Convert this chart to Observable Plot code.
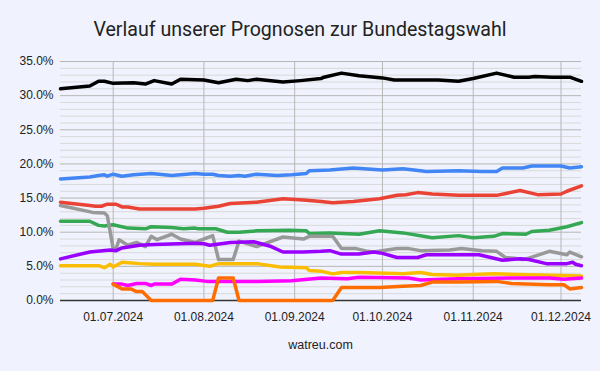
<!DOCTYPE html>
<html><head><meta charset="utf-8">
<script src="https://cdn.jsdelivr.net/npm/d3@7"></script>
<script src="https://cdn.jsdelivr.net/npm/@observablehq/plot@0.6"></script>
<style>
body{margin:0;background:#f0f3fd;width:600px;height:371px;overflow:hidden}
#title{height:29px;padding-top:19px;line-height:22px;text-align:center;font-family:Roboto,"Liberation Sans",Arial,sans-serif;font-size:19.6px;color:#222}
#caption{height:30px;line-height:30px;padding-left:41px;text-align:center;font-family:"Liberation Sans",Arial,sans-serif;font-size:12.5px;color:#222}
#chart svg{display:block}
</style></head><body>
<div id="title">Verlauf unserer Prognosen zur Bundestagswahl</div>
<div id="chart"></div>
<div id="caption">watreu.com</div>
<script>
const cdu = [["2024-06-13",31.0],["2024-06-23",31.4],["2024-06-26",32.1],["2024-06-28",32.1],["2024-07-01",31.8],["2024-07-08",31.9],["2024-07-12",31.7],["2024-07-15",32.2],["2024-07-21",31.7],["2024-07-24",32.4],["2024-08-01",32.3],["2024-08-06",31.9],["2024-08-12",32.4],["2024-08-16",32.2],["2024-08-19",32.4],["2024-08-28",32.0],["2024-09-03",32.2],["2024-09-10",32.5],["2024-09-11",32.7],["2024-09-17",33.3],["2024-09-23",32.9],["2024-10-01",32.6],["2024-10-05",32.3],["2024-10-20",32.3],["2024-10-27",32.1],["2024-11-01",32.5],["2024-11-09",33.3],["2024-11-15",32.7],["2024-11-20",32.7],["2024-11-22",32.8],["2024-11-28",32.7],["2024-12-04",32.7],["2024-12-08",32.1]];
const afd = [["2024-06-13",17.8],["2024-06-23",18.1],["2024-06-26",18.3],["2024-06-28",18.4],["2024-06-29",18.2],["2024-07-01",18.5],["2024-07-04",18.2],["2024-07-08",18.4],["2024-07-14",18.6],["2024-07-21",18.3],["2024-07-29",18.6],["2024-08-01",18.5],["2024-08-04",18.5],["2024-08-06",18.3],["2024-08-10",18.2],["2024-08-13",18.3],["2024-08-15",18.2],["2024-08-19",18.5],["2024-08-26",18.3],["2024-08-31",18.4],["2024-09-05",18.6],["2024-09-06",19.0],["2024-09-13",19.1],["2024-09-21",19.4],["2024-10-01",19.1],["2024-10-08",19.3],["2024-10-14",19.0],["2024-10-16",18.9],["2024-10-27",19.0],["2024-11-04",18.9],["2024-11-09",18.9],["2024-11-11",19.4],["2024-11-18",19.4],["2024-11-21",19.7],["2024-12-01",19.7],["2024-12-04",19.4],["2024-12-08",19.6]];
const spd = [["2024-06-13",14.4],["2024-06-23",13.9],["2024-06-25",13.8],["2024-06-27",13.8],["2024-06-29",14.1],["2024-07-02",14.1],["2024-07-04",13.7],["2024-07-06",13.7],["2024-07-10",13.4],["2024-07-29",13.4],["2024-08-01",13.5],["2024-08-06",13.8],["2024-08-10",14.2],["2024-08-19",14.4],["2024-08-28",14.9],["2024-09-04",14.7],["2024-09-10",14.5],["2024-09-14",14.3],["2024-09-21",14.5],["2024-09-30",14.9],["2024-10-06",15.4],["2024-10-09",15.5],["2024-10-13",15.8],["2024-10-18",15.6],["2024-10-27",15.4],["2024-11-09",15.4],["2024-11-17",16.1],["2024-11-23",15.5],["2024-12-01",15.6],["2024-12-03",16.0],["2024-12-08",16.8]];
const gruene = [["2024-06-13",11.6],["2024-06-23",11.6],["2024-06-26",11.0],["2024-06-28",10.9],["2024-07-01",11.1],["2024-07-06",10.6],["2024-07-12",10.5],["2024-07-14",10.8],["2024-07-21",10.7],["2024-07-25",10.5],["2024-07-29",10.6],["2024-07-30",10.5],["2024-08-05",10.5],["2024-08-09",10.0],["2024-08-13",10.0],["2024-08-19",10.2],["2024-08-30",10.3],["2024-09-05",10.2],["2024-09-06",9.8],["2024-09-13",9.9],["2024-09-23",9.7],["2024-09-30",10.2],["2024-10-08",9.9],["2024-10-18",9.2],["2024-10-27",9.5],["2024-11-01",9.2],["2024-11-08",9.4],["2024-11-11",9.8],["2024-11-19",9.7],["2024-11-21",10.1],["2024-11-27",10.3],["2024-12-03",10.8],["2024-12-08",11.4]];
const sonstige = [["2024-06-13",13.9],["2024-06-24",12.9],["2024-06-28",12.8],["2024-06-29",12.4],["2024-07-01",7.6],["2024-07-02",7.6],["2024-07-03",8.9],["2024-07-06",8.1],["2024-07-09",8.5],["2024-07-12",7.9],["2024-07-14",9.4],["2024-07-16",8.9],["2024-07-21",9.7],["2024-07-24",9.0],["2024-07-29",8.5],["2024-08-04",9.5],["2024-08-06",6.0],["2024-08-11",6.0],["2024-08-13",8.7],["2024-08-19",7.9],["2024-08-28",9.3],["2024-09-04",9.0],["2024-09-06",9.4],["2024-09-14",9.4],["2024-09-17",7.6],["2024-09-22",7.6],["2024-09-26",7.2],["2024-09-28",7.1],["2024-10-06",7.6],["2024-10-10",7.6],["2024-10-14",7.3],["2024-10-24",7.4],["2024-10-28",7.6],["2024-11-04",7.3],["2024-11-09",7.2],["2024-11-12",6.3],["2024-11-15",6.2],["2024-11-18",6.0],["2024-11-20",6.2],["2024-11-27",7.2],["2024-12-03",6.7],["2024-12-04",7.1],["2024-12-08",6.4]];
const bsw = [["2024-06-13",6.1],["2024-06-23",7.1],["2024-06-30",7.4],["2024-07-02",7.3],["2024-07-04",7.7],["2024-07-10",8.1],["2024-07-15",8.2],["2024-07-29",8.4],["2024-08-01",8.3],["2024-08-03",8.1],["2024-08-10",8.5],["2024-08-18",8.6],["2024-08-24",7.9],["2024-08-28",7.1],["2024-09-04",7.1],["2024-09-10",7.2],["2024-09-13",7.3],["2024-09-17",6.8],["2024-09-23",6.8],["2024-09-28",7.1],["2024-10-01",6.9],["2024-10-06",6.3],["2024-10-13",6.3],["2024-10-16",6.7],["2024-11-03",6.7],["2024-11-11",5.9],["2024-11-17",6.1],["2024-11-20",6.0],["2024-11-26",5.4],["2024-12-03",5.4],["2024-12-05",5.6],["2024-12-06",5.3],["2024-12-08",5.1]];
const fdp = [["2024-06-13",5.1],["2024-06-26",5.1],["2024-06-28",4.8],["2024-06-30",5.3],["2024-07-01",4.9],["2024-07-04",5.6],["2024-07-10",5.4],["2024-07-15",5.3],["2024-07-29",5.3],["2024-08-03",5.0],["2024-08-06",5.4],["2024-08-19",5.4],["2024-08-27",4.9],["2024-09-05",4.8],["2024-09-06",4.4],["2024-09-10",4.3],["2024-09-14",3.9],["2024-09-17",4.1],["2024-09-23",4.1],["2024-10-08",3.9],["2024-10-14",4.1],["2024-10-18",3.8],["2024-10-27",3.7],["2024-11-01",3.8],["2024-11-08",3.9],["2024-11-16",3.8],["2024-11-27",3.7],["2024-12-08",3.6]];
const linke = [["2024-07-01",2.4],["2024-07-04",2.4],["2024-07-06",2.2],["2024-07-09",2.5],["2024-07-12",2.5],["2024-07-14",2.2],["2024-07-15",2.4],["2024-07-21",2.4],["2024-07-24",3.1],["2024-07-29",3.0],["2024-08-02",2.8],["2024-08-19",2.8],["2024-08-31",2.9],["2024-09-10",3.3],["2024-09-19",3.2],["2024-09-23",3.4],["2024-10-10",3.3],["2024-10-14",3.0],["2024-10-27",3.2],["2024-11-16",3.3],["2024-11-27",3.3],["2024-12-02",3.1],["2024-12-08",3.3]];
const fw = [["2024-07-01",2.4],["2024-07-04",1.7],["2024-07-07",1.7],["2024-07-09",1.3],["2024-07-11",1.3],["2024-07-14",0],["2024-08-04",0],["2024-08-06",3.3],["2024-08-11",3.3],["2024-08-13",0],["2024-09-14",0],["2024-09-17",1.9],["2024-09-30",1.9],["2024-10-08",2.1],["2024-10-14",2.2],["2024-10-18",2.7],["2024-10-27",2.7],["2024-11-09",2.8],["2024-11-14",2.5],["2024-11-27",2.3],["2024-12-02",2.3],["2024-12-04",1.7],["2024-12-08",1.9]];

const parties = ["CDU/CSU","AfD","SPD","Grüne","Sonstige","BSW","FDP","Linke","Freie Wähler"];
const partyValues = [cdu, afd, spd, gruene, sonstige, bsw, fdp, linke, fw];
const partyColors = ["#000000","#4285f4","#ea4335","#34a853","#999999","#9900ff","#fbbc04","#ff00ff","#ff6d01"];
const xTickDates = ["2024-07-01","2024-08-01","2024-09-01","2024-10-01","2024-11-01","2024-12-01"];
const xDomain = ["2024-06-13","2024-12-08"];
const yMajorTicks = [0,5,10,15,20,25,30,35];
const yMinorTicks = d3.range(0,36).filter(v => v % 5 !== 0);

const parse = d3.utcParse("%Y-%m-%d");
const data = parties.flatMap((p, i) => partyValues[i].map(([d, v]) => ({party: p, date: parse(d), value: v})));
const xTicks = xTickDates.map(parse);

const chart = Plot.plot({
  width: 600, height: 282,
  marginLeft: 60, marginRight: 19, marginTop: 13, marginBottom: 30,
  style: {background: "transparent", fontFamily: "'Liberation Sans', Arial, sans-serif", fontSize: "12px", color: "#222"},
  x: {type: "utc", domain: xDomain.map(parse), ticks: xTicks, tickFormat: d3.utcFormat("%d.%m.%Y"), tickSize: 0, tickPadding: 12, label: null},
  y: {domain: [0, 35], ticks: yMajorTicks, tickFormat: d => d.toFixed(1) + "%", tickSize: 0, tickPadding: 7, label: null},
  color: {domain: parties, range: partyColors},
  marks: [
    Plot.ruleY(yMinorTicks, {stroke: "#d9d9d9", strokeWidth: 1}),
    Plot.ruleY(yMajorTicks, {stroke: "#b7b7b7", strokeWidth: 1}),
    Plot.ruleX(xTicks, {stroke: "#b7b7b7", strokeWidth: 1}),
    Plot.ruleY([0], {stroke: "#333333", strokeWidth: 1.5}),
    Plot.line(data, {x: "date", y: "value", z: "party", stroke: "party", strokeWidth: 3.5})
  ]
});
document.getElementById("chart").append(chart);
</script>
</body></html>
